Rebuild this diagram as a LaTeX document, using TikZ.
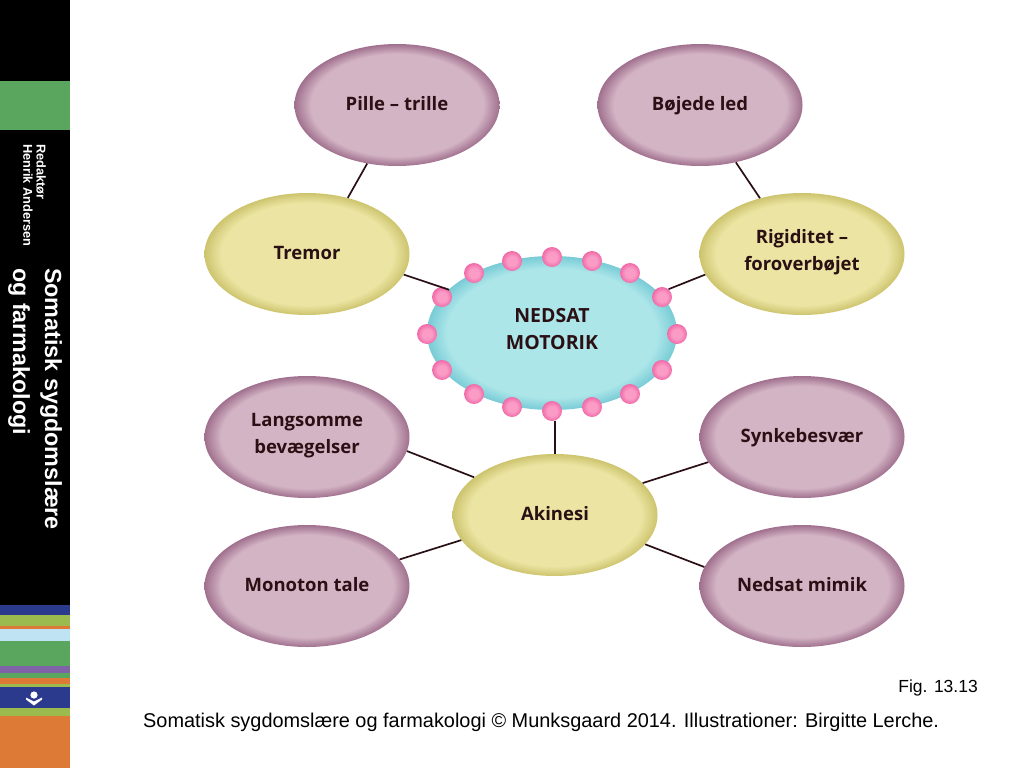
\documentclass[tikz,border=0pt]{standalone}
\usepackage{fontspec}
\setmainfont{Liberation Sans}
\newfontfamily\bubblefont{Open Sans}[UprightFont=* Bold]
\usetikzlibrary{shapes.geometric}
\definecolor{mauvefill}{HTML}{D3B4C4}\definecolor{mauveedge}{HTML}{A0708E}
\definecolor{yellowfill}{HTML}{EBE4A2}\definecolor{yellowedge}{HTML}{CDC46E}
\definecolor{cyanfill}{HTML}{ACE6E9}\definecolor{cyanedge}{HTML}{78CBD6}
\definecolor{pinkfill}{HTML}{FA9CC6}\definecolor{pinkedge}{HTML}{F06AA8}
\definecolor{inktext}{HTML}{2A1014}
\definecolor{bandgreen}{HTML}{5BA65F}\definecolor{bandnavy}{HTML}{2B3A8C}
\definecolor{bandlime}{HTML}{9CBB4E}\definecolor{bandorange}{HTML}{DD7A35}
\definecolor{bandsky}{HTML}{BFE3F2}\definecolor{bandpurple}{HTML}{7F62A8}
\pgfdeclareradialshading{mauveball}{\pgfpoint{0bp}{0bp}}{color(0bp)=(mauvefill);color(21bp)=(mauvefill);color(25bp)=(mauveedge);color(50bp)=(mauveedge)}
\pgfdeclareradialshading{yellowball}{\pgfpoint{0bp}{0bp}}{color(0bp)=(yellowfill);color(21bp)=(yellowfill);color(25bp)=(yellowedge);color(50bp)=(yellowedge)}
\pgfdeclareradialshading{cyanball}{\pgfpoint{0bp}{0bp}}{color(0bp)=(cyanfill);color(21bp)=(cyanfill);color(25bp)=(cyanedge);color(50bp)=(cyanedge)}
\pgfdeclareradialshading{pinkball}{\pgfpoint{0bp}{0bp}}{color(0bp)=(pinkfill);color(12bp)=(pinkfill);color(25bp)=(pinkedge);color(50bp)=(pinkedge)}
\tikzset{
  bubble/.style={ellipse,inner sep=0pt,minimum width=205pt,minimum height=122pt,align=center,
    text=inktext,font=\bubblefont\fontsize{18.5}{27}\selectfont,
    execute at begin node=\strut,execute at end node=\strut},
  mauve/.style={bubble,shading=mauveball},
  yellow/.style={bubble,shading=yellowball},
  hub/.style={bubble,minimum width=250pt,minimum height=154pt,shading=cyanball},
  bead/.style={circle,inner sep=0pt,minimum size=20pt,shading=pinkball},
  link/.style={draw=inktext,line width=1.7pt},
  spine/.style={rotate=-90,anchor=west,text=white,inner sep=0pt}
}
\begin{document}
\begin{tikzpicture}[x=1pt,y=-1pt]
\useasboundingbox(0,0)rectangle(1024,768);
% left band
\fill[black](0,0)rectangle(70,605);
\fill[bandgreen](0,81)rectangle(70,130);
\foreach\col/\top/\bot in {bandnavy/605/615,bandlime/615/626,bandorange/626/629,bandsky/629/641,bandgreen/641/666,bandpurple/666/673,bandgreen/673/678,bandorange/678/684,bandlime/684/687,bandnavy/687/708,bandlime/708/716,bandorange/716/768}
  \fill[\col](0,\top)rectangle(70,\bot);
\fill[white](34,695)circle(3.6);
\fill[white](26,697.5)--(34,701.5)--(42,697.5)--(42,699.5)--(34,705.5)--(26,699.5)--cycle;
\node[spine,font=\bfseries\fontsize{23.3}{24}\selectfont](title)at(51,268){Somatisk sygdomslære};
\node[spine,font=\bfseries\fontsize{23.3}{24}\selectfont](titleb)at(19,268){og farmakologi};
\node[spine,font=\bfseries\fontsize{12.8}{13}\selectfont](editor)at(41,144){Redaktør};
\node[spine,font=\bfseries\fontsize{12.8}{13}\selectfont](editorb)at(28,144){Henrik Andersen};
% bubbles
\node[hub,font=\bubblefont\fontsize{19.5}{27}\selectfont](motorik)at(552,333){NEDSAT\\MOTORIK};
\foreach\n/\x/\y in {a/552/257,b/512/261,c/592/261,d/474/273,e/630/273,f/442/297,g/662/297,h/427/334,i/677/334,j/442/370,k/662/370,l/474/394,m/630/394,n/512/407,o/592/407,p/552/411}
  \node[bead](bead\n)at(\x,\y){};
\node[mauve](pille)at(397,105){Pille – trille};
\node[mauve](bojede)at(700,105){Bøjede led};
\node[yellow](tremor)at(307,254){Tremor};
\node[yellow](rigid)at(802,254){Rigiditet –\\foroverbøjet};
\node[mauve](langsom)at(307,437){Langsomme\\bevægelser};
\node[mauve](synke)at(802,437){Synkebesvær};
\node[yellow](akinesi)at(555,515){Akinesi};
\node[mauve](monoton)at(307,586){Monoton tale};
\node[mauve](mimik)at(802,586){Nedsat mimik};
% connectors
\draw[link](pille.-117)--(tremor.54);\draw[link](bojede.-58)--(rigid.127);
\draw[link](tremor.-12)--(beadf.45);\draw[link](rigid.192)--(beadg.50);
\draw[link](beadp.south-|akinesi.north)--(akinesi.north);
\draw[link](langsom.-8)--(akinesi.155);\draw[link](synke.195)--(akinesi.20);
\draw[link](monoton.16)--(akinesi.195);\draw[link](mimik.169)--(akinesi.-18);
% caption
\node[anchor=east,inner sep=0pt,font=\fontsize{17.5}{18}\selectfont](fig)at(978,688){Fig. 13.13};
\node[anchor=west,inner sep=0pt,font=\fontsize{19.9}{20}\selectfont](credit)at(143,722){Somatisk sygdomslære og farmakologi © Munksgaard 2014. Illustrationer: Birgitte Lerche.};
\end{tikzpicture}
\end{document}
